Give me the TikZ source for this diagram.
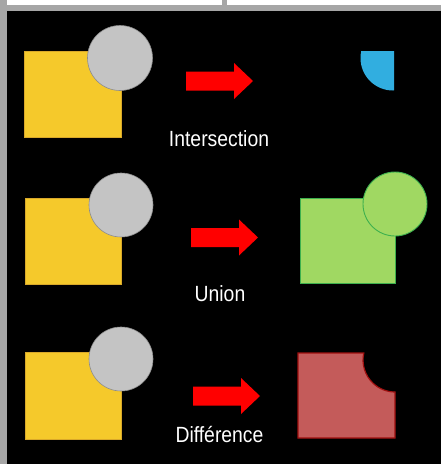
\documentclass[tikz,border=0pt]{standalone}
\usepackage{fontspec}
\setmainfont{Liberation Sans}
\definecolor{frame}{HTML}{A6A6A6}
\definecolor{sqyel}{HTML}{F5C92B}
\definecolor{sqyeldk}{HTML}{D9A82A}
\definecolor{circgray}{HTML}{C4C4C4}
\definecolor{circrim}{HTML}{8C8C8C}
\definecolor{interblue}{HTML}{31AEE0}
\definecolor{unifill}{HTML}{A0D862}
\definecolor{unidraw}{HTML}{3DB04E}
\definecolor{difffill}{HTML}{C45B5A}
\definecolor{diffdraw}{HTML}{A01010}
\definecolor{arrred}{HTML}{FF0000}
\tikzset{
  yelsq/.style={fill=sqyel,draw=sqyeldk,line width=0.6pt},
  graycirc/.style={fill=circgray,draw=circrim,line width=0.6pt},
  lbl/.style={text=white,anchor=base,inner sep=0pt,font=\fontsize{22}{22}\selectfont},
  blockarr/.pic={\fill[arrred] (0,-9.5) -- (48,-9.5) -- (48,-18) -- (67,0) -- (48,18) -- (48,9.5) -- (0,9.5) -- cycle;}
}
\newcommand{\narrowtxt}[1]{\scalebox{0.88}[1]{#1}}
\begin{document}
\begin{tikzpicture}[x=1pt,y=-1pt]
\useasboundingbox (0,0) rectangle (441,464);
% frame
\fill[white] (0,0) rectangle (441,464);
\fill[frame] (0,0) rectangle (7,464);
\fill[frame] (0,5) rectangle (441,11);
\fill[frame] (222,0) rectangle (227,5);
\fill[black] (7,11) rectangle (441,464);

% Row 1: intersection
\draw[yelsq] (24,51) rectangle (121,137);
\draw[graycirc] (120,58) circle (32.5);
\pic at (186,81) {blockarr};
\begin{scope}
  \clip (294,51) rectangle (394,137);
  \fill[interblue] (393,58) circle (32.5);
\end{scope}
\node[lbl] (tinter) at (219,146.7) {\narrowtxt{Intersection}};

% Row 2: union
\draw[yelsq] (25,198) rectangle (121,284);
\draw[graycirc] (121,205) circle (32);
\pic at (191,237.5) {blockarr};
\draw[fill=unifill,draw=unidraw,line width=0.9pt] (300,198) rectangle (395,283);
\draw[fill=unifill,draw=unidraw,line width=0.9pt] (395,204) circle (32);
\node[lbl] (tunion) at (220,301.7) {\narrowtxt{Union}};

% Row 3: difference
\draw[yelsq] (25,352) rectangle (121,439);
\draw[graycirc] (121,359) circle (32);
\pic at (193,396) {blockarr};
\draw[fill=difffill,draw=diffdraw,line width=1.2pt]
  (298,353) -- (363.8,353) arc[start angle=192.6,end angle=90,radius=32]
  -- (395,438) -- (298,438) -- cycle;
\node[lbl] (tdiff) at (219.5,442.7) {\narrowtxt{Différence}};
\end{tikzpicture}
\end{document}
